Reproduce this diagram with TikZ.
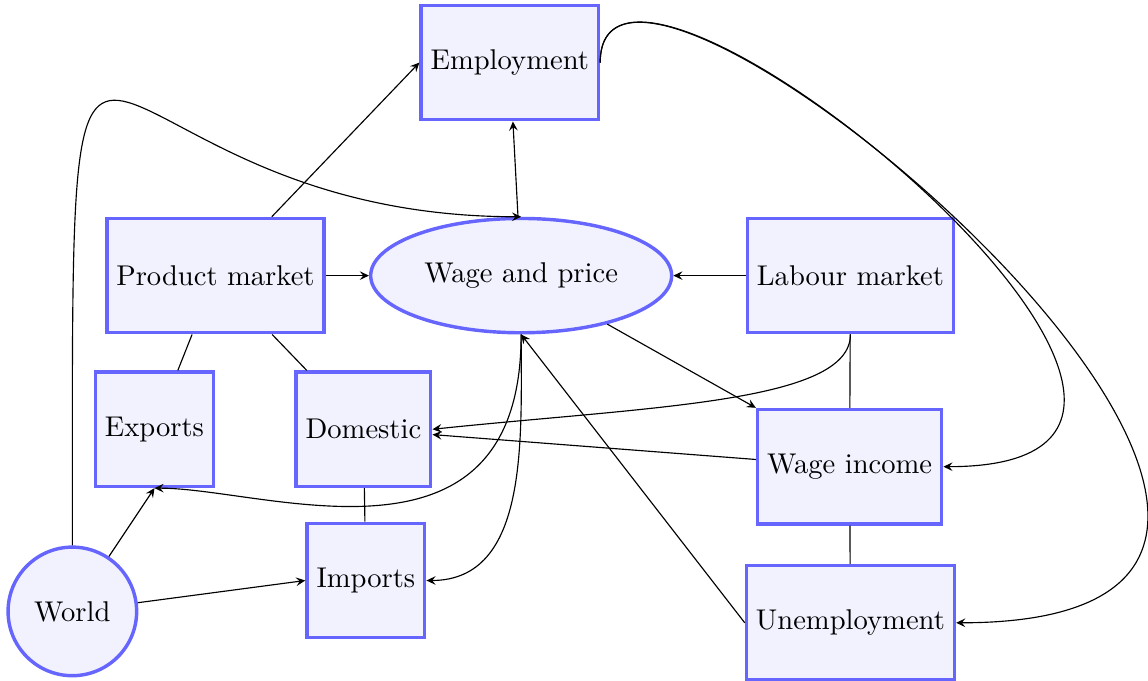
\documentclass[tikz,border=0pt]{standalone}
\usepackage{tikz}
\usepackage{xcolor}
\usetikzlibrary{shapes.geometric, arrows.meta, positioning}

\begin{document}
\begin{tikzpicture}[>={Stealth[length=3.2pt, width=3pt, inset=1.2pt]},
    block/.style={rectangle, draw=blue!60, fill=blue!5, very thick,
                  minimum height=4em, align=center},
    hub/.style={ellipse, draw=blue!60, fill=blue!5, very thick, minimum height=4em},
    globe/.style={circle, draw=blue!60, fill=blue!5, very thick, minimum size=4.5em}]

    \useasboundingbox (-6.41, -4.98) rectangle (7.71, 3.39);

    % Centre
    \node[hub] (wage) at (0, 0) {Wage and price};
    \node[block] (employment) at (-0.14, 2.62) {Employment};

    % Product side
    \node[block] (product) at (-3.76, 0) {Product market};
    \node[block] (exports) at (-4.51, -1.89) {Exports};
    \node[block] (domestic) at (-1.94, -1.89) {Domestic};
    \node[block] (imports) at (-1.91, -3.75) {Imports};
    \node[globe] (world) at (-5.52, -4.13) {World};

    % Labour side
    \node[block] (labour) at (4.05, 0) {Labour market};
    \node[block] (wageincome) at (4.04, -2.35) {Wage income};
    \node[block] (unemployment) at (4.05, -4.27) {Unemployment};

    % Plain links
    \draw (product) -- (exports);
    \draw (product) -- (domestic);
    \draw (domestic) -- (imports);
    \draw (labour) -- (wageincome);
    \draw (wageincome) -- (unemployment);

    % Straight arrows
    \draw[->] (product) -- (wage);
    \draw[->] (labour) -- (wage);
    \draw[->] (product) -- (employment.west);
    \draw[->] (wage) -- (employment);
    \draw[->] (wage) -- (wageincome.north west);
    \draw[->] (wageincome) -- (domestic);
    \draw[->] (unemployment.west) -- (wage.south);
    \draw[->] (world) -- (exports.south);
    \draw[->] (world) -- (imports.west);

    % Curved arrows
    \draw[->] (world.north) .. controls +(0, 9.18) and +(-5.67, 0) .. (wage.north);
    \draw[->] (wage.south) .. controls +(0, -3.08) and +(1.37, 0) .. (exports.south);
    \draw[->] (wage.south) to[out=-90, in=0] (imports.east);
    \draw[->] (labour.south) .. controls +(0, -0.84) and +(2.68, 0.28) .. (domestic.east);
    \draw[->] (employment.east) .. controls +(0, 2.46) and +(4.92, 0) .. (wageincome.east);
    \draw[->] (employment.east) .. controls +(0, 2.76) and +(7.13, 0) .. (unemployment.east);
\end{tikzpicture}
\end{document}
